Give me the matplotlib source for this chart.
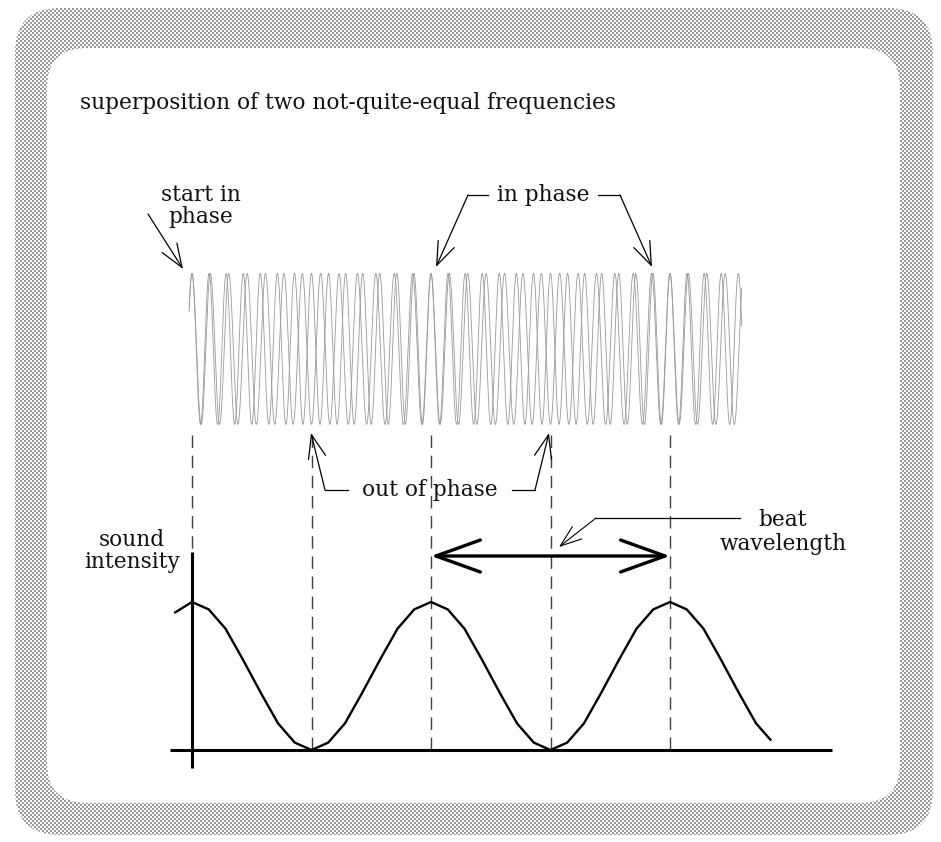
"""Beats: superposition of two tones with nearly equal frequencies."""

import matplotlib.pyplot as plt
import numpy as np
from matplotlib.patches import ArrowStyle, FancyBboxPatch

W, H = 941, 842

# time is measured in beat periods; the two tones run 13 and 14 cycles per beat
tone_cycles = [13, 14]
wave_start = -0.012
wave_end = 2.30
in_phase_t = [0.0, 1.0, 2.0]
out_phase_t = [0.5, 1.5]

# sound intensity (0 = baseline, 1 = peak)
intensity_t = [-0.07, 0.0, 0.07, 0.14, 0.21, 0.29, 0.36, 0.43, 0.5, 0.57,
               0.64, 0.71, 0.79, 0.86, 0.93, 1.0, 1.07, 1.14, 1.21, 1.29,
               1.36, 1.43, 1.5, 1.57, 1.64, 1.71, 1.79, 1.86, 1.93, 2.0,
               2.07, 2.14, 2.21, 2.29, 2.36, 2.42]
intensity = [0.93, 1.0, 0.95, 0.82, 0.62, 0.38, 0.18, 0.05, 0.0, 0.05,
             0.18, 0.38, 0.62, 0.82, 0.95, 1.0, 0.95, 0.82, 0.62, 0.38,
             0.18, 0.05, 0.0, 0.05, 0.18, 0.38, 0.62, 0.82, 0.95, 1.0,
             0.95, 0.82, 0.62, 0.38, 0.18, 0.07]

WAVE_CENTER = 2.71
WAVE_AMP = 0.51

# layout: pixel position of t=0, pixels per beat, baseline pixel, pixels per unit
PX_T0, PX_BEAT, PX_Y0, PX_UNIT = 192, 239, 750, 148


def px(x, y):
    """Pixel position -> data coordinates of the main axes."""
    return (x - PX_T0) / PX_BEAT, (PX_Y0 - y) / PX_UNIT


FONT = "DejaVu Serif"
FS = 15.6

fig = plt.figure(figsize=(W / 100, H / 100), dpi=100)

# ---- frame: dithered grey border with a rounded white panel -------------
bg = fig.add_axes([0, 0, 1, 1])
bg.set_xlim(0, W)
bg.set_ylim(H, 0)
bg.axis("off")
yy, xx = np.mgrid[0:H, 0:W]
checker = np.where(((xx // 2) + (yy // 2)) % 2 == 0, 0.6, 1.0)
outer = FancyBboxPatch((15 + 45, 8 + 45), 918 - 90, 827 - 90,
                       boxstyle="round,pad=45", fc="none", ec="none")
bg.add_patch(outer)
img = bg.imshow(checker, cmap="gray", vmin=0, vmax=1, extent=(0, W, H, 0),
                interpolation="nearest", aspect="auto")
img.set_clip_path(outer)
inner = FancyBboxPatch((47 + 40, 48 + 40), 853 - 80, 755 - 80,
                       boxstyle="round,pad=40", fc="white", ec="none", zorder=2)
bg.add_patch(inner)

# ---- main drawing ------------------------------------------------------
ax = fig.add_axes([0, 0, 1, 1])
ax.patch.set_alpha(0)
ax.set_xlim(px(0, 0)[0], px(W, 0)[0])
ax.set_ylim(px(0, H)[1], px(0, 0)[1])
ax.axis("off")

t = np.linspace(wave_start, wave_end, 6000)
for cycles in tone_cycles:
    ax.plot(t, WAVE_CENTER + WAVE_AMP * np.cos(2 * np.pi * cycles * t),
            color="0.6", lw=0.6)

dash_top = WAVE_CENTER - WAVE_AMP - 0.07
for tx in sorted(in_phase_t + out_phase_t):
    ax.plot([tx, tx], [dash_top, 0], color="0.25", lw=1.0, dashes=(9, 5.5))

# axes of the intensity plot
ax.plot([px(170, 0)[0], px(832, 0)[0]], [0, 0], color="black", lw=2.2,
        solid_capstyle="butt")
ax.plot([0, 0], [px(0, 768)[1], px(0, 552)[1]], color="black", lw=2.2,
        solid_capstyle="butt")
ax.plot(intensity_t, intensity, color="black", lw=1.7)

text_kw = dict(family=FONT, fontsize=FS, color="#111111")
ax.text(*px(80, 103), "superposition of two not-quite-equal frequencies",
        ha="left", va="center", **text_kw)
ax.text(*px(201, 206), "start in\nphase", ha="center", va="center",
        linespacing=1.05, **text_kw)
ax.text(*px(543, 195), "in phase", ha="center", va="center", **text_kw)
ax.text(*px(430, 490), "out of phase", ha="center", va="center", **text_kw)
ax.text(*px(783, 532), "beat\nwavelength", ha="center", va="center",
        linespacing=1.12, **text_kw)
ax.text(*px(132, 551), "sound\nintensity", ha="center", va="center",
        linespacing=1.05, **text_kw)

thin = ArrowStyle("->", head_length=1.2, head_width=0.45)


def pointer(start, tip, style=thin, lw=0.9):
    ax.annotate("", xy=px(*tip), xytext=px(*start),
                arrowprops=dict(arrowstyle=style, lw=lw, color="black",
                                shrinkA=0, shrinkB=0, mutation_scale=14))


def leader(a, b):
    (x0, y0), (x1, y1) = px(*a), px(*b)
    ax.plot([x0, x1], [y0, y1], color="black", lw=0.9)


pointer((148, 214), (183, 269))

leader((488, 195), (468, 195))
pointer((468, 195), (436, 267))
leader((598, 195), (620, 195))
pointer((620, 195), (652, 267))

leader((348, 490), (325, 490))
pointer((325, 490), (311, 433))
leader((512, 490), (535, 490))
pointer((535, 490), (549, 433))

leader((740, 518), (596, 518))
pointer((596, 518), (559, 547),
        style=ArrowStyle("->", head_length=1.1, head_width=0.4), lw=0.8)

beat_y = px(0, 556)[1]
ax.annotate("", xy=(in_phase_t[2], beat_y), xytext=(in_phase_t[1], beat_y),
            arrowprops=dict(arrowstyle=ArrowStyle("<->", head_length=32,
                                                  head_width=11.5),
                            lw=2.4, color="black", shrinkA=0, shrinkB=0,
                            mutation_scale=1))

fig.savefig("out.png", dpi=100)
